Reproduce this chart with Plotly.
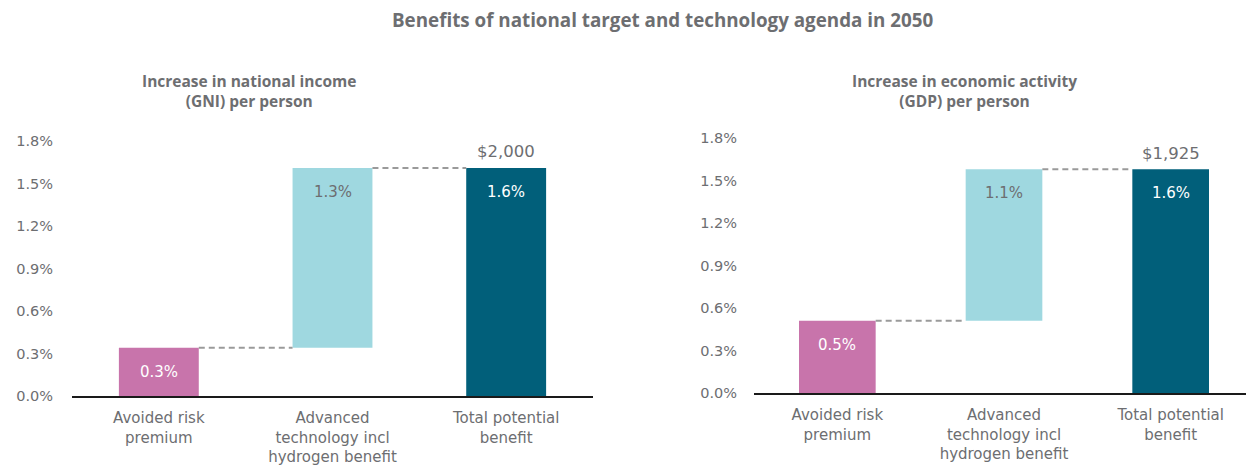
import plotly.graph_objects as go

# ---- data ----
categories = ["Avoided risk<br>premium", "Advanced<br>technology incl<br>hydrogen benefit", "Total potential<br>benefit"]
gni_values = [0.34, 1.27, 1.61]
gdp_values = [0.51, 1.07, 1.58]
gni_labels = ["0.3%", "1.3%", "1.6%"]
gdp_labels = ["0.5%", "1.1%", "1.6%"]
gni_total_dollars = "$2,000"
gdp_total_dollars = "$1,925"
y_ticks = [0.0, 0.3, 0.6, 0.9, 1.2, 1.5, 1.8]
bar_colors = ["#C874AB", "#9FD8E0", "#015F7A"]
label_colors = ["#FFFFFF", "#6D6E71", "#FFFFFF"]

TEXT = "#6D6E71"
FONT = "DejaVu Sans"
TFONT = "Open Sans"
BAR_W = 0.46

# page has an 8px body margin; work in page pixels and convert
OFF = 8
W, H = 1254 - OFF, 466 - OFF


def px(x):
    return (x - OFF) / W


def py(y):
    return 1 - (y - OFF) / H


fig = go.Figure()


def add_panel(values, labels, dollars, xr, yr):
    base = [0, values[0], 0]
    heights = [values[0], values[1], values[0] + values[1]]
    fig.add_trace(go.Bar(
        x=list(range(len(categories))), y=heights, base=base,
        marker=dict(color=bar_colors, line=dict(width=0)),
        width=BAR_W, xaxis=xr, yaxis=yr, hoverinfo="skip", showlegend=False,
    ))
    tops = [b + h for b, h in zip(base, heights)]
    for i in range(len(categories) - 1):
        fig.add_shape(type="line", xref=xr, yref=yr,
                      x0=i + BAR_W / 2, x1=i + 1 - BAR_W / 2,
                      y0=tops[i], y1=tops[i],
                      line=dict(color="#9A9A9A", width=2, dash="6px,4px"))
    for i, lab in enumerate(labels):
        fig.add_annotation(x=i, y=tops[i], xref=xr, yref=yr, text=lab,
                           showarrow=False, yanchor="middle", yshift=-24,
                           font=dict(family=FONT, size=15, color=label_colors[i]))
    fig.add_annotation(x=2, y=tops[2], xref=xr, yref=yr, text=dollars,
                       showarrow=False, yanchor="middle", yshift=16,
                       font=dict(family=FONT, size=16.5, color=TEXT))


add_panel(gni_values, gni_labels, gni_total_dollars, "x", "y")
add_panel(gdp_values, gdp_labels, gdp_total_dollars, "x2", "y2")

axis_common = dict(
    tickmode="array", tickvals=list(range(len(categories))), ticktext=categories,
    range=[-0.5, 2.5], showgrid=False, zeroline=False,
    showline=True, linecolor="#1a1a1a", linewidth=2,
    ticks="", tickfont=dict(family=FONT, size=15, color=TEXT),
    ticklabelstandoff=7, automargin=False, fixedrange=True,
)
yaxis_common = dict(
    range=[0, 1.8], tickvals=y_ticks, ticktext=[f"{v:.1f}%" for v in y_ticks],
    showgrid=False, zeroline=False, showline=False, ticks="",
    tickfont=dict(family=FONT, size=14.5, color=TEXT),
    automargin=False, fixedrange=True,
)

fig.update_layout(
    width=W, height=H,
    margin=dict(l=0, r=0, t=0, b=0),
    paper_bgcolor="white", plot_bgcolor="white",
    xaxis=dict(domain=[px(72), px(593)], anchor="y", **axis_common),
    yaxis=dict(domain=[py(396), py(141)], anchor="x", ticklabelstandoff=18, **yaxis_common),
    xaxis2=dict(domain=[px(754), 1.0], anchor="y2", **axis_common),
    yaxis2=dict(domain=[py(393), py(138)], anchor="x2", ticklabelstandoff=16, **yaxis_common),
)

fig.add_annotation(x=px(662), y=py(20), xref="paper", yref="paper",
                   text="<b>Benefits of national target and technology agenda in 2050</b>",
                   showarrow=False, xanchor="center", yanchor="middle",
                   font=dict(family=TFONT, size=18.8, color=TEXT))
fig.add_annotation(x=px(249), y=py(91), xref="paper", yref="paper",
                   text="<b>Increase in national income<br>(GNI) per person</b>",
                   showarrow=False, xanchor="center", yanchor="middle",
                   font=dict(family=TFONT, size=15.5, color=TEXT))
fig.add_annotation(x=px(964), y=py(91), xref="paper", yref="paper",
                   text="<b>Increase in economic activity<br>(GDP) per person</b>",
                   showarrow=False, xanchor="center", yanchor="middle",
                   font=dict(family=TFONT, size=15.5, color=TEXT))

fig.write_html("out.html")
